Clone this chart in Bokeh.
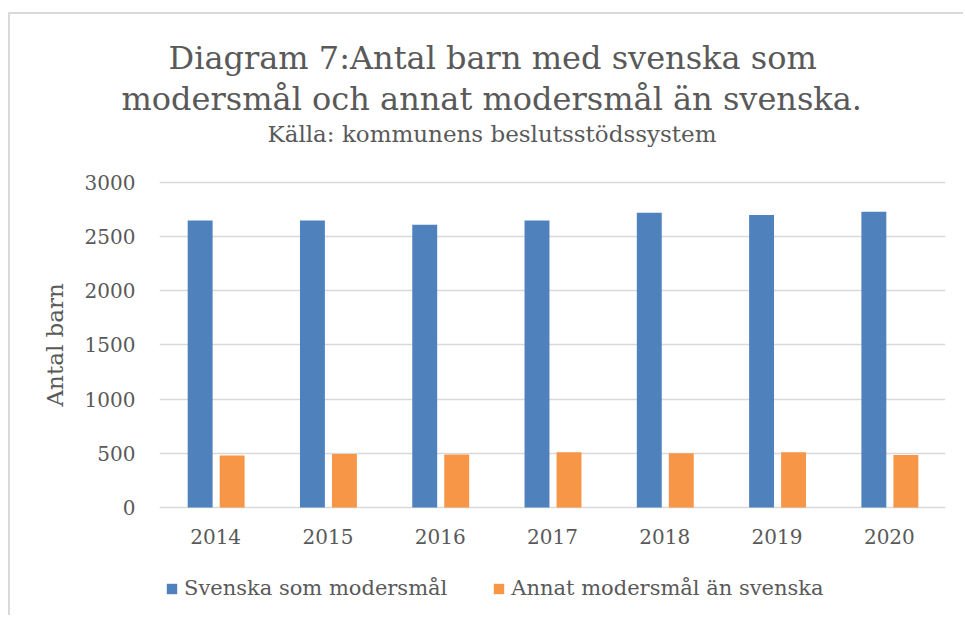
from bokeh.plotting import figure
from bokeh.models import (ColumnDataSource, FactorRange, Range1d, Legend, LegendItem,
                          FixedTicker, Title)
from bokeh.core.properties import value
from bokeh.transform import dodge
from bokeh.embed import file_html
from bokeh.resources import INLINE

years = ["2014", "2015", "2016", "2017", "2018", "2019", "2020"]
svenska = [2650, 2650, 2610, 2650, 2720, 2700, 2730]
annat = [480, 495, 490, 510, 500, 510, 485]
y_ticks = [0, 500, 1000, 1500, 2000, 2500, 3000]

title_line1 = "Diagram 7:Antal barn med svenska som"
title_line2 = "modersmål och annat modersmål än svenska."
subtitle = "Källa: kommunens beslutsstödssystem"
y_title = "Antal barn"
series_names = ["Svenska som modersmål", "Annat modersmål än svenska"]

FONT = "DejaVu Serif"
TXT = "#595959"
GRID = "#d9d9d9"
BLUE = "#4f81bd"
ORANGE = "#f79646"

src = ColumnDataSource(dict(year=years, svenska=svenska, annat=annat,
                            base=[0] * len(years)))

# frame spans from above the 3000 line down to the legend row;
# the value 0 sits where the category axis would be
p = figure(width=955, height=603, x_range=FactorRange(*years, range_padding=0),
           y_range=Range1d(-969, 3332), output_backend="svg", toolbar_location=None, title=None,
           min_border_left=149, min_border_right=20, min_border_top=132, min_border_bottom=5)
p.styles = {"margin-left": "8px", "margin-top": "12px",
            "border-top": "2px solid #d9d9d9", "border-left": "2px solid #d9d9d9"}
p.outline_line_color = None

r1 = p.vbar(x=dodge("year", -0.138, range=p.x_range), top="svenska", width=0.222,
            source=src, fill_color=BLUE, line_color=None)
r2 = p.vbar(x=dodge("year", 0.147, range=p.x_range), top="annat", width=0.222,
            source=src, fill_color=ORANGE, line_color=None)

# category labels under the zero line
p.text(x="year", y="base", text="year", source=src, y_offset=29,
       text_align="center", text_baseline="alphabetic",
       text_font=value(FONT), text_font_size="20px", text_color=TXT)

p.xaxis.visible = False
p.xgrid.grid_line_color = None
p.ygrid.grid_line_color = GRID
p.ygrid.grid_line_width = 1.5
p.yaxis.ticker = FixedTicker(ticks=y_ticks)

for ax in p.yaxis:
    ax.axis_line_color = None
    ax.major_tick_line_color = None
    ax.minor_tick_line_color = None
    ax.major_tick_out = 0
    ax.minor_tick_out = 0
    ax.major_label_standoff = 24
    ax.major_label_text_font = FONT
    ax.major_label_text_font_size = "20px"
    ax.major_label_text_color = TXT

# titles (first added sits closest to the plot)
p.add_layout(Title(text=subtitle, align="left", offset=108, standoff=0,
                   text_font=FONT, text_font_size="23px", text_font_style="normal",
                   text_color=TXT), "above")
p.add_layout(Title(text=title_line2, align="left", offset=-38, standoff=2,
                   text_font=FONT, text_font_size="32px", text_font_style="normal",
                   text_color=TXT), "above")
p.add_layout(Title(text=title_line1, align="left", offset=9, standoff=0,
                   text_font=FONT, text_font_size="32px", text_font_style="normal",
                   text_color=TXT), "above")

# y-axis title
p.add_layout(Title(text=y_title, align="left", offset=206, standoff=28,
                   text_font=FONT, text_font_size="23px", text_font_style="normal",
                   text_color=TXT), "left")

legend = Legend(items=[LegendItem(label=series_names[0], renderers=[r1]),
                       LegendItem(label=series_names[1], renderers=[r2])],
                location=(6, 12), orientation="horizontal", padding=0, margin=0,
                spacing=45, label_standoff=6, glyph_width=13, glyph_height=13,
                label_text_font=FONT, label_text_font_size="21px", label_text_color=TXT,
                border_line_color=None, background_fill_alpha=0)
p.add_layout(legend, "center")

open("out.html", "w").write(file_html(p, INLINE))
